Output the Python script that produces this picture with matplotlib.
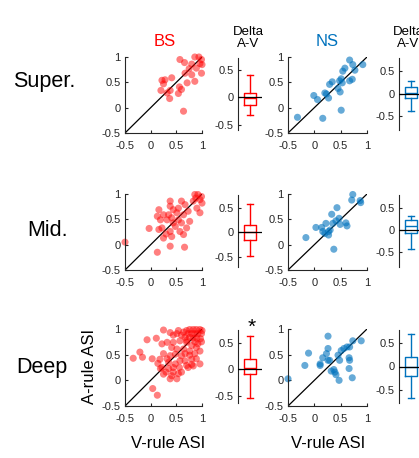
import numpy as np
import matplotlib
matplotlib.use("Agg")
import matplotlib.pyplot as plt

plt.rcParams['font.family'] = ['Liberation Sans', 'DejaVu Sans']

# ---- scatter data (V-rule ASI, A-rule ASI) ----
bs_super_v = [0.57, 0.66, 0.80, 0.86, 0.94, 0.99, 0.96, 1.00, 0.89, 0.75, 0.67, 0.80, 0.86, 0.99,
              0.71, 0.60, 0.56, 0.54, 0.41, 0.28, 0.22, 0.25, 0.20, 0.38, 0.37, 0.32, 0.64]
bs_super_a = [0.95, 0.89, 0.86, 1.00, 1.00, 0.95, 0.87, 0.85, 0.78, 0.77, 0.68, 0.65, 0.52, 0.68,
              0.49, 0.36, 0.41, 0.28, 0.59, 0.55, 0.54, 0.47, 0.34, 0.34, 0.18, 0.29, -0.07]

bs_mid_v = [-0.50, 0.86, 0.92, 0.99, 0.88, 0.96, 0.83, 1.00, 0.90, 0.96, 0.38, 0.60, 0.67, 0.38,
            0.44, 0.51, 0.64, 0.73, 0.35, 0.16, 0.13, 0.19, 0.32, 0.41, 0.54, 0.76, 0.60, 0.44,
            -0.03, 0.16, 0.22, 0.38, 0.41, 0.25, 0.30, 0.57, 0.64, 0.38, 0.66, 0.13, 0.54, 0.25,
            0.48, 0.70]
bs_mid_a = [0.05, 0.99, 0.99, 0.95, 0.92, 0.89, 0.86, 0.82, 0.72, 0.63, 0.86, 0.86, 0.79, 0.76,
            0.69, 0.63, 0.59, 0.66, 0.59, 0.69, 0.56, 0.49, 0.49, 0.53, 0.49, 0.46, 0.43, 0.43,
            0.32, 0.30, 0.33, 0.26, 0.16, 0.13, 0.21, 0.26, 0.20, -0.03, -0.05, -0.15, 0.72, 0.59,
            0.36, 0.33]

bs_deep_v = [-0.34, -0.21, -0.16, -0.07, 0.11, 0.25, 0.38, 0.03, 0.14, 0.18, 0.22, 0.04, 0.13,
             0.25, 0.30, 0.41, 0.44, 0.54, 0.56, 0.44, 0.35, 0.38, 0.48, 0.60, 0.67, 0.80, 0.83,
             0.73, 0.57, 0.51, 0.64, 0.41, 0.32, 0.44, 0.57, 0.70, 0.80, 0.89, 0.96, 0.76, 0.22,
             0.64, 0.70, 0.76, 0.83, 0.89, 0.96, 1.00, 0.73, 0.80, 0.86, 0.92, 0.99, 0.67, 0.76,
             0.83, 0.90, 0.97, 0.60, 0.51, 0.54, 0.44, 0.70, 0.86, 0.99, 0.92,
             0.25, 0.32, 0.19, 0.35, 0.48, 0.67, 0.76, 0.86, 0.89, 0.70, 0.60, 0.51, 0.38, 0.80, 0.96]
bs_deep_a = [0.43, 0.55, 0.45, 0.79, 0.82, 0.98, 0.93, 0.42, 0.33, 0.41, 0.25, -0.16, -0.29,
             0.12, 0.16, 0.09, 0.16, 0.13, 0.25, 0.25, 0.35, 0.48, 0.51, 0.48, 0.38, 0.41, 0.28,
             0.25, 0.38, 0.61, 0.61, 0.64, 0.74, 0.74, 0.77, 0.74, 0.68, 0.64, 0.57, 0.57, 0.71,
             0.94, 0.97, 0.99, 0.99, 0.99, 0.99, 0.97, 0.91, 0.91, 0.91, 0.91, 0.91, 0.84, 0.84,
             0.82, 0.82, 0.81, 0.88, 0.91, 0.97, 0.88, 0.78, 0.75, 0.75, 0.71,
             0.52, 0.42, 0.23, 0.23, 0.32, 0.52, 0.49, 0.52, 0.42, 0.29, 0.16, 0.03, 0.03, 0.31, 0.32]

ns_super_v = [-0.32, 0.16, 0.51, -0.01, 0.06, 0.23, 0.27, 0.20, 0.29, 0.34, 0.45, 0.49, 0.48,
              0.51, 0.53, 0.67, 0.72, 0.54, 0.58, 0.67, 0.73, 0.77, 0.92]
ns_super_a = [-0.19, -0.21, -0.05, 0.24, 0.16, 0.27, 0.19, 0.29, 0.46, 0.51, 0.38, 0.31, 0.53,
              0.57, 0.49, 0.53, 0.56, 0.72, 0.78, 0.94, 0.85, 0.74, 0.85]

ns_mid_v = [-0.16, 0.03, 0.14, 0.16, 0.22, 0.20, 0.27, 0.30, 0.35, 0.33, 0.43, 0.47, 0.49, 0.41,
            0.60, 0.62, 0.37, 0.73, 0.71, 0.87, 0.88, 0.27]
ns_mid_a = [0.14, 0.34, 0.34, 0.26, 0.42, 0.22, 0.19, 0.29, 0.42, 0.60, 0.73, 0.52, 0.40, 0.47,
            0.43, 0.37, -0.09, 0.99, 0.88, 0.87, 0.83, 0.26]

ns_deep_v = [-0.50, -0.18, -0.11, 0.26, 0.26, 0.11, 0.11, 0.16, 0.23, 0.26, 0.29, 0.32, 0.39,
             0.41, 0.37, 0.47, 0.45, 0.51, 0.56, 0.62, 0.67, 0.73, 0.89, 0.66, 0.67, 0.66, 0.72, 0.48]
ns_deep_a = [0.03, 0.29, 0.53, 0.86, 0.62, 0.32, 0.29, 0.44, 0.52, 0.39, 0.39, 0.18, 0.16,
             0.11, 0.21, 0.00, 0.49, 0.58, 0.62, 0.65, 0.65, 0.77, 0.77, 0.44, 0.39, 0.23, 0.05, 0.39]

# ---- box stats of delta A-V: [whislo, q1, median, q3, whishi] ----
bs_super_box = [-0.32, -0.15, -0.01, 0.08, 0.40]
bs_mid_box = [-0.47, -0.16, 0.00, 0.16, 0.58]
bs_deep_box = [-0.53, -0.09, 0.02, 0.19, 0.63]
ns_super_box = [-0.38, -0.10, 0.02, 0.14, 0.29]
ns_mid_box = [-0.43, -0.05, 0.10, 0.24, 0.32]
ns_deep_box = [-0.66, -0.20, 0.00, 0.19, 0.68]

box_ylims = {'bs_super': (-0.6, 0.72), 'bs_mid': (-0.7, 0.76), 'bs_deep': (-0.63, 0.74),
             'ns_super': (-0.8, 0.79), 'ns_mid': (-0.83, 0.8), 'ns_deep': (-0.77, 0.77)}

rows = ['Super.', 'Mid.', 'Deep']
row_keys = ['super', 'mid', 'deep']

RED = (1.0, 0.0, 0.0)
BLUE = (0.0, 0.447, 0.741)
AXC = '#262626'

W, H = 419, 458
fig = plt.figure(figsize=(W / 100, H / 100), dpi=100)


def px_axes(x0, y0, x1, y1):
    return fig.add_axes([x0 / W, 1 - y1 / H, (x1 - x0) / W, (y1 - y0) / H])


def style(ax):
    for s in ['top', 'right']:
        ax.spines[s].set_visible(False)
    for s in ['left', 'bottom']:
        ax.spines[s].set_color(AXC)
        ax.spines[s].set_linewidth(0.8)
    ax.tick_params(direction='in', length=2.5, width=0.8, colors=AXC, labelsize=8)
    ax.tick_params(axis='x', pad=6)
    ax.tick_params(axis='y', pad=3)


data = {
    'bs_super': (bs_super_v, bs_super_a, bs_super_box),
    'bs_mid': (bs_mid_v, bs_mid_a, bs_mid_box),
    'bs_deep': (bs_deep_v, bs_deep_a, bs_deep_box),
    'ns_super': (ns_super_v, ns_super_a, ns_super_box),
    'ns_mid': (ns_mid_v, ns_mid_a, ns_mid_box),
    'ns_deep': (ns_deep_v, ns_deep_a, ns_deep_box),
}

row_y = [(57, 133), (194, 270), (329, 406)]
cols = [('bs', RED, 0.5, (125, 202), (238, 262)), ('ns', BLUE, 0.6, (288, 367), (399, 423))]

for ci, (cname, col, alpha, sx, bx) in enumerate(cols):
    for ri, rk in enumerate(row_keys):
        key = cname + '_' + rk
        v, a, b = data[key]
        y0, y1 = row_y[ri]
        ax = px_axes(sx[0], y0, sx[1], y1)
        style(ax)
        ax.plot([-0.5, 1], [-0.5, 1], color='k', lw=0.9, zorder=1)
        ax.scatter(v, a, s=26, color=col, alpha=alpha, edgecolors='none', clip_on=False, zorder=2)
        ax.set_xlim(-0.5, 1)
        ax.set_ylim(-0.5, 1)
        ax.set_xticks([-0.5, 0, 0.5, 1])
        ax.set_yticks([-0.5, 0, 0.5, 1])
        ax.set_xticklabels(['-0.5', '0', '0.5', '1'])
        ax.set_yticklabels(['-0.5', '0', '0.5', '1'])

        bax = px_axes(bx[0], y0 + 1, bx[1], y1 - 3)
        style(bax)
        bax.spines['bottom'].set_visible(False)
        stats = [dict(whislo=b[0], q1=b[1], med=b[2], q3=b[3], whishi=b[4], fliers=[])]
        bax.bxp(stats, positions=[1], widths=1.05, showfliers=False,
                boxprops=dict(color=col, lw=1.0), whiskerprops=dict(color=col, lw=1.0),
                capprops=dict(color=col, lw=1.0), medianprops=dict(color=col, lw=1.0),
                capwidths=0.5)
        bax.axhline(0, color='k', lw=0.9, zorder=5)
        bax.set_xlim(0, 2)
        bax.set_xticks([])
        bax.set_ylim(*box_ylims[key])
        bax.set_yticks([-0.5, 0, 0.5])
        bax.set_yticklabels(['-0.5', '0', '0.5'])

# titles
fig.text(165 / W, 1 - 41 / H, 'BS', color=RED, fontsize=12, ha='center', va='center')
fig.text(327 / W, 1 - 41 / H, 'NS', color=BLUE, fontsize=12, ha='center', va='center')
for xc in [248, 408]:
    fig.text(xc / W, 1 - 38 / H, 'Delta\nA-V', fontsize=9.5, ha='center', va='center',
             linespacing=1.1)

# row labels
for lab, (xc, yc) in zip(rows, [(44, 82), (48, 231), (42, 368)]):
    fig.text(xc / W, 1 - yc / H, lab, fontsize=15.5, ha='center', va='center')

fig.text(89 / W, 1 - 366 / H, 'A-rule ASI', fontsize=12, rotation=90, ha='center', va='center')
for xc in [168, 328]:
    fig.text(xc / W, 1 - 443 / H, 'V-rule ASI', fontsize=12, ha='center', va='center')

fig.text(252 / W, 1 - 327 / H, '*', fontsize=15, ha='center', va='center')

fig.savefig('out.png', dpi=100)
